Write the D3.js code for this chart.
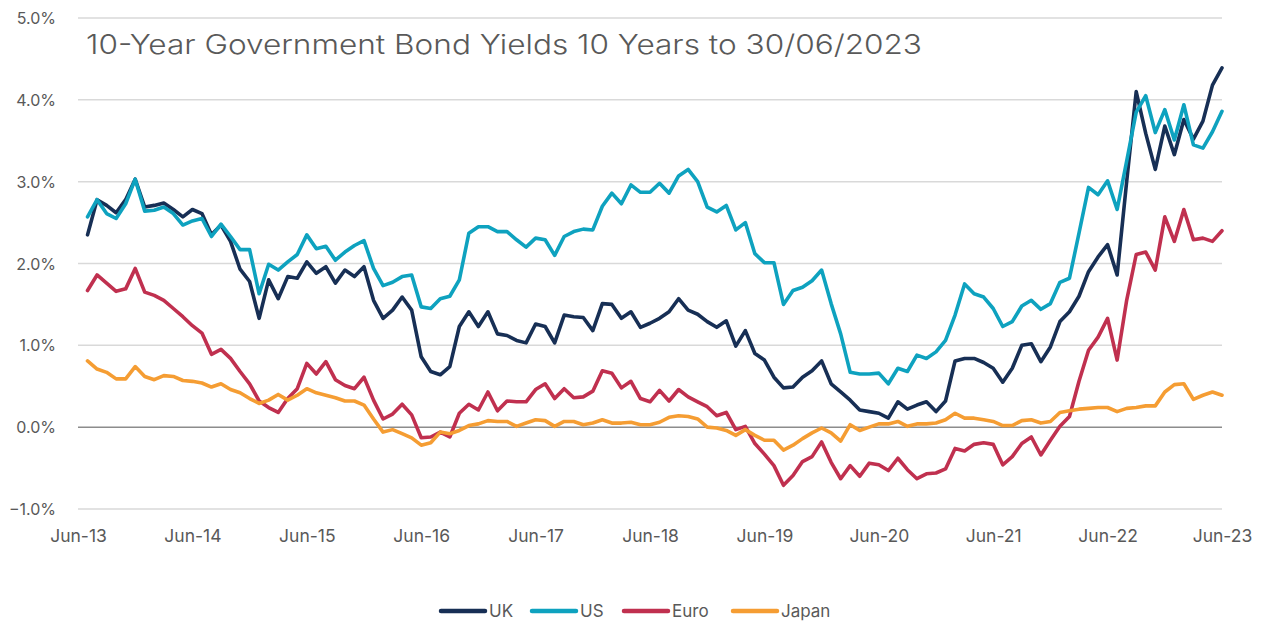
<!DOCTYPE html>
<html>
<head>
<meta charset="utf-8">
<script src="https://cdn.jsdelivr.net/npm/d3@7"></script>
<style>
  html, body { margin: 0; padding: 0; background: #fff; }
  svg { display: block; }
  text { font-family: "Inter", "Lato", sans-serif; fill: #595959; }
</style>
</head>
<body>
<svg id="chart" width="1269" height="623"></svg>
<script>
// ---- Data (monthly, Jul-13 .. Jun-23) ----
const tickLabels = ["Jun-13","Jun-14","Jun-15","Jun-16","Jun-17","Jun-18","Jun-19","Jun-20","Jun-21","Jun-22","Jun-23"];
const yTicks = [-1, 0, 1, 2, 3, 4, 5];
const seriesNames = ["UK", "US", "Euro", "Japan"];

const uk = [2.35,2.78,2.71,2.62,2.78,3.03,2.69,2.71,2.74,2.66,2.57,2.66,2.61,2.35,2.47,2.27,1.93,1.78,1.33,1.80,
  1.57,1.84,1.82,2.02,1.88,1.96,1.76,1.92,1.84,1.96,1.55,1.33,1.43,1.59,1.43,0.86,0.68,0.64,0.74,1.23,
  1.41,1.23,1.41,1.14,1.12,1.06,1.03,1.26,1.23,1.03,1.37,1.35,1.34,1.18,1.51,1.50,1.33,1.41,1.22,1.27,
  1.33,1.41,1.57,1.43,1.38,1.29,1.22,1.30,0.99,1.18,0.90,0.82,0.61,0.48,0.49,0.61,0.69,0.81,0.53,0.43,
  0.33,0.21,0.19,0.17,0.11,0.31,0.22,0.27,0.31,0.19,0.32,0.81,0.84,0.84,0.79,0.72,0.55,0.72,1.00,1.02,
  0.80,0.98,1.29,1.41,1.60,1.90,2.08,2.23,1.86,3.00,4.10,3.59,3.15,3.68,3.33,3.76,3.52,3.74,4.18,4.39];

const us = [2.57,2.78,2.61,2.55,2.73,3.03,2.64,2.65,2.69,2.61,2.47,2.52,2.55,2.33,2.48,2.33,2.17,2.17,1.63,1.99,
  1.92,2.02,2.11,2.35,2.18,2.21,2.04,2.14,2.22,2.28,1.94,1.73,1.77,1.84,1.86,1.47,1.45,1.57,1.60,1.80,
  2.37,2.45,2.45,2.39,2.39,2.29,2.20,2.31,2.29,2.10,2.33,2.39,2.42,2.41,2.70,2.86,2.73,2.96,2.87,2.87,
  2.98,2.86,3.07,3.15,3.00,2.69,2.63,2.71,2.41,2.50,2.12,2.01,2.01,1.50,1.67,1.71,1.79,1.92,1.51,1.14,
  0.67,0.65,0.65,0.66,0.53,0.72,0.68,0.88,0.84,0.92,1.06,1.37,1.75,1.63,1.59,1.45,1.23,1.29,1.48,1.55,
  1.44,1.51,1.77,1.82,2.37,2.93,2.84,3.01,2.66,3.25,3.85,4.05,3.60,3.88,3.51,3.94,3.45,3.41,3.61,3.86];

const euro = [1.67,1.86,1.76,1.66,1.69,1.94,1.65,1.61,1.55,1.45,1.35,1.24,1.15,0.89,0.95,0.84,0.68,0.53,0.32,0.24,
  0.18,0.35,0.47,0.78,0.65,0.80,0.58,0.51,0.47,0.61,0.33,0.10,0.16,0.28,0.15,-0.13,-0.12,-0.06,-0.12,0.17,
  0.28,0.21,0.43,0.20,0.32,0.31,0.31,0.46,0.53,0.35,0.47,0.36,0.37,0.44,0.69,0.66,0.48,0.56,0.35,0.31,
  0.45,0.32,0.46,0.37,0.31,0.25,0.14,0.18,-0.03,0.01,-0.20,-0.33,-0.47,-0.71,-0.59,-0.42,-0.36,-0.18,-0.43,-0.63,
  -0.47,-0.60,-0.44,-0.46,-0.53,-0.38,-0.52,-0.63,-0.57,-0.56,-0.51,-0.26,-0.29,-0.21,-0.19,-0.21,-0.46,-0.36,-0.20,-0.12,
  -0.34,-0.16,0.01,0.13,0.56,0.94,1.10,1.33,0.82,1.55,2.11,2.14,1.92,2.57,2.27,2.66,2.29,2.31,2.27,2.40];

const japan = [0.81,0.71,0.67,0.59,0.59,0.74,0.62,0.58,0.63,0.62,0.57,0.56,0.54,0.49,0.53,0.46,0.42,0.35,0.29,0.33,
  0.40,0.33,0.39,0.47,0.42,0.39,0.36,0.32,0.32,0.27,0.10,-0.06,-0.03,-0.08,-0.13,-0.22,-0.19,-0.06,-0.08,-0.04,
  0.02,0.04,0.08,0.07,0.07,0.01,0.05,0.09,0.08,0.01,0.07,0.07,0.03,0.05,0.09,0.05,0.05,0.06,0.03,0.03,
  0.06,0.12,0.14,0.13,0.10,0.00,-0.01,-0.04,-0.10,-0.03,-0.10,-0.16,-0.16,-0.28,-0.22,-0.14,-0.07,-0.01,-0.07,-0.17,
  0.03,-0.04,0.00,0.04,0.04,0.07,0.01,0.04,0.04,0.05,0.09,0.17,0.11,0.11,0.09,0.07,0.02,0.02,0.08,0.09,
  0.05,0.07,0.18,0.20,0.22,0.23,0.24,0.24,0.19,0.23,0.24,0.26,0.26,0.43,0.52,0.53,0.34,0.39,0.43,0.39];

const colors = ["#172f55", "#0ea2bf", "#c0304f", "#f59d33"];
const seriesData = [uk, us, euro, japan];

(function () {
  const svg = d3.select("#chart");
  const plotLeft = 78, plotRight = 1222, plotTop = 18, plotBottom = 509;

  // month index: 0 = Jun-13, 120 = Jun-23; data starts at 1 (Jul-13)
  const x = d3.scaleLinear().domain([0, 120]).range([plotLeft, plotRight]);
  const y = d3.scaleLinear().domain([-1, 5]).range([plotBottom, plotTop]);
  const fmt = d3.format(".1%");

  // gridlines
  svg.append("g").selectAll("line").data(yTicks.filter(d => d !== 0)).join("line")
    .attr("x1", plotLeft).attr("x2", plotRight)
    .attr("y1", d => y(d)).attr("y2", d => y(d))
    .attr("stroke", "#d9d9d9").attr("stroke-width", 1.5);

  // y axis labels
  const yAxis = d3.axisLeft(y).tickValues(yTicks).tickFormat(d => fmt(d / 100)).tickSize(0).tickPadding(0);
  const gy = svg.append("g").attr("transform", "translate(56,0)").call(yAxis);
  gy.select(".domain").remove();
  gy.selectAll("text").style("font-size", "16px").style("font-family", "Inter, Lato, sans-serif")
    .attr("fill", "#595959").attr("dy", "0.35em");

  // x axis labels
  const xAxis = d3.axisBottom(x).tickValues(d3.range(0, 121, 12))
    .tickFormat((d, i) => tickLabels[i]).tickSize(0).tickPadding(0);
  const gx = svg.append("g").attr("transform", `translate(0,${plotBottom + 21})`).call(xAxis);
  gx.select(".domain").remove();
  gx.selectAll("text").style("font-size", "17.5px").style("font-family", "Inter, Lato, sans-serif")
    .attr("fill", "#595959").attr("dy", "0.71em");

  // zero line
  svg.append("line").attr("x1", plotLeft).attr("x2", plotRight)
    .attr("y1", y(0)).attr("y2", y(0)).attr("stroke", "#8c8c8c").attr("stroke-width", 1.5);

  // title
  svg.append("text").attr("x", 86).attr("y", 54)
    .attr("textLength", 836).attr("lengthAdjust", "spacingAndGlyphs")
    .style("font-size", "27px").style("font-weight", 300).attr("fill", "#595959")
    .text("10-Year Government Bond Yields 10 Years to 30/06/2023");

  // lines
  const line = d3.line().x((d, i) => x(i + 1)).y(d => y(d));
  svg.append("g").selectAll("path").data(seriesData).join("path")
    .attr("d", d => line(d))
    .attr("fill", "none")
    .attr("stroke", (d, i) => colors[i])
    .attr("stroke-width", 3.6)
    .attr("stroke-linejoin", "round")
    .attr("stroke-linecap", "round");

  // legend
  const legendX = [441, 532, 624, 733];
  const lg = svg.append("g").selectAll("g").data(seriesNames).join("g")
    .attr("transform", (d, i) => `translate(${legendX[i]},611)`);
  lg.append("line").attr("x1", 0).attr("x2", 44).attr("y1", 0).attr("y2", 0)
    .attr("stroke", (d, i) => colors[i]).attr("stroke-width", 4.5).attr("stroke-linecap", "round");
  lg.append("text").attr("x", 48).attr("y", 0).attr("dy", "0.35em")
    .style("font-size", "17px").attr("fill", "#595959").text(d => d);
})();
</script>
</body>
</html>
